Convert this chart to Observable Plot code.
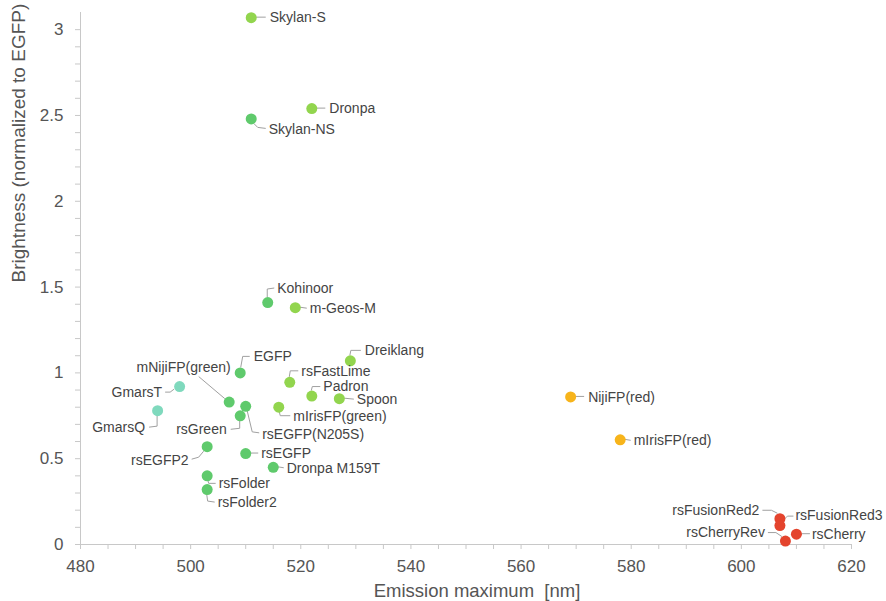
<!DOCTYPE html>
<html><head><meta charset="utf-8">
<script src="https://cdn.jsdelivr.net/npm/d3@7"></script>
<script src="https://cdn.jsdelivr.net/npm/@observablehq/plot@0.6"></script>
<style>body{margin:0;background:#fff}</style>
</head><body><div id="chart"></div>
<script>
// ---- data ----
const names = ["Skylan-S","Dronpa","Skylan-NS","Kohinoor","m-Geos-M","Dreiklang","EGFP","rsFastLime","Padron","Spoon",
  "mIrisFP(green)","GmarsT","GmarsQ","mNijiFP(green)","rsEGFP(N205S)","rsGreen","rsEGFP2","rsEGFP","Dronpa M159T",
  "rsFolder","rsFolder2","NijiFP(red)","mIrisFP(red)","rsFusionRed2","rsFusionRed3","rsCherryRev","rsCherry"];
const emission = [511,522,511,514,519,529,509,518,522,527,
  516,498,494,507,510,509,503,510,515,
  503,503,569,578,607,607,608,610];
const brightness = [3.07,2.54,2.48,1.41,1.38,1.07,1.00,0.945,0.865,0.85,
  0.80,0.92,0.78,0.83,0.805,0.75,0.57,0.53,0.45,
  0.40,0.32,0.86,0.61,0.15,0.11,0.02,0.06];
const groups = ["G3","G3","G2","G2","G3","G3","G2","G3","G3","G3",
  "G3","G1","G1","G2","G2","G2","G2","G2","G2",
  "G2","G2","G4","G4","G5","G5","G5","G5"];
const xTicks = [480,500,520,540,560,580,600,620];
const yTicks = [0,0.5,1,1.5,2,2.5,3];
const xMinorTicks = d3.range(480,621,5);
const yMinorTicks = d3.range(0,31).map(i => i/10);
const groupNames = ["G1","G2","G3","G4","G5"];
const groupColors = ["#7fd9bd","#5fca6c","#92d54e","#f7b41b","#e4442d"];

// ---- label layout (pixel offsets from each dot) ----
const labelLayout = {
  "Skylan-S":{dx:19,dy:0,a:"start",L:[[5,0],[15,0]]},
  "Dronpa":{dx:18,dy:0,a:"start",L:[[5,0],[14,0]]},
  "Skylan-NS":{dx:18,dy:11,a:"start",L:[[3,5],[7,9],[15,10]]},
  "Kohinoor":{dx:10,dy:-14,a:"start",L:[[0,-5],[0,-13],[7,-14]]},
  "m-Geos-M":{dx:15,dy:1,a:"start",L:[[5,0],[12,1]]},
  "Dreiklang":{dx:15,dy:-10,a:"start",L:[[0,-5],[1,-10],[11,-10]]},
  "EGFP":{dx:14,dy:-16,a:"start",L:[[1,-5],[3,-16],[10,-16]]},
  "rsFastLime":{dx:12,dy:-11,a:"start",L:[[0,-5],[1,-11],[9,-11]]},
  "Padron":{dx:12,dy:-9,a:"start",L:[[0,-5],[1,-9],[9,-9]]},
  "Spoon":{dx:18,dy:1,a:"start",L:[[5,0],[15,1]]},
  "mIrisFP(green)":{dx:15,dy:9,a:"start",L:[[1,5],[2,9],[12,9]]},
  "GmarsT":{dx:-17,dy:6,a:"end",L:[[-5,3],[-9,6],[-14,6]]},
  "GmarsQ":{dx:-12,dy:17,a:"end",L:[[0,5],[0,16],[-8,17]]},
  "mNijiFP(green)":{dx:2,dy:-34,a:"end",L:[[-4,-3],[-30,-25]]},
  "rsEGFP(N205S)":{dx:17,dy:28,a:"start",L:[[2,5],[7,26],[14,27]]},
  "rsGreen":{dx:-13,dy:14,a:"end",L:[[0,5],[0,13],[-9,14]]},
  "rsEGFP2":{dx:-18,dy:14,a:"end",L:[[-3,5],[-8,11],[-15,13]]},
  "rsEGFP":{dx:16,dy:0,a:"start",L:[[5,0],[13,0]]},
  "Dronpa M159T":{dx:14,dy:1,a:"start",L:[[5,0],[11,1]]},
  "rsFolder":{dx:12,dy:8,a:"start",L:[[1,4],[2,8],[9,8]]},
  "rsFolder2":{dx:11,dy:13,a:"start",L:[[0,5],[1,12],[8,13]]},
  "NijiFP(red)":{dx:18,dy:1,a:"start",L:[[5,0],[14,0]]},
  "mIrisFP(red)":{dx:14,dy:1,a:"start",L:[[5,0],[11,1]]},
  "rsFusionRed2":{dx:-20,dy:-8,a:"end",L:[[-2,-5],[-8,-8],[-17,-8]]},
  "rsFusionRed3":{dx:16,dy:-10,a:"start",L:[[4,-5],[8,-9],[14,-9]]},
  "rsCherryRev":{dx:-20,dy:-8,a:"end",L:[[-3,-4],[-9,-8],[-17,-8]]},
  "rsCherry":{dx:16,dy:0,a:"start",L:[[5,0],[14,0]]}
};

const data = names.map((name, i) => ({name, x: emission[i], y: brightness[i], group: groups[i]}));

function leaders(index, scales) {
  const g = d3.create("svg:g");
  for (const d of data) {
    const L = labelLayout[d.name];
    const cx = scales.x(d.x), cy = scales.y(d.y);
    g.append("path")
      .attr("d", d3.line()(L.L.map(([a, b]) => [cx + a, cy + b])))
      .attr("fill", "none").attr("stroke", "#a0a0a0").attr("stroke-width", 1);
  }
  return g.node();
}
function labels(index, scales) {
  const g = d3.create("svg:g").attr("font-size", 14).attr("fill", "#444");
  for (const d of data) {
    const L = labelLayout[d.name];
    const cx = scales.x(d.x), cy = scales.y(d.y);
    g.append("text").attr("x", cx + L.dx).attr("y", cy + L.dy).attr("dy", "0.35em")
      .attr("text-anchor", L.a).text(d.name);
  }
  return g.node();
}

const chart = Plot.plot({
  width: 886, height: 601,
  marginLeft: 80, marginRight: 35, marginTop: 12, marginBottom: 57,
  style: {fontFamily: "'Liberation Sans', Arial, sans-serif", background: "white", color: "#555"},
  x: {domain: [480, 620], label: null},
  y: {domain: [0, 3.1], label: null},
  color: {type: "ordinal", domain: groupNames, range: groupColors},
  marks: [
    Plot.axisY(yMinorTicks, {tickSize: 5, tickFormat: () => "", color: "#c8c8c8", label: null}),
    Plot.axisX(xMinorTicks, {tickSize: 5, tickFormat: () => "", color: "#c8c8c8", label: null}),
    Plot.axisY(yTicks, {tickSize: 0, tickPadding: 17, fontSize: 17, color: "#555", tickFormat: d => String(d), label: null}),
    Plot.axisX(xTicks, {tickSize: 0, tickPadding: 15, fontSize: 17, color: "#555", tickFormat: d => String(d), label: null}),
    Plot.ruleX([480], {stroke: "#c8c8c8"}),
    Plot.ruleY([0], {stroke: "#c8c8c8"}),
    Plot.text(["Emission maximum\u00a0 [nm]"], {frameAnchor: "bottom", dx: 11, dy: 47, fontSize: 18.5, fill: "#555", lineAnchor: "middle"}),
    Plot.text(["Brightness (normalized to EGFP)"], {frameAnchor: "left", dx: -62, dy: 4, rotate: -90, fontSize: 19, fill: "#555", lineAnchor: "middle"}),
    leaders,
    Plot.dot(data, {x: "x", y: "y", fill: "group", r: 5.5}),
    labels
  ]
});
document.getElementById("chart").appendChild(chart);
</script>
</body></html>
